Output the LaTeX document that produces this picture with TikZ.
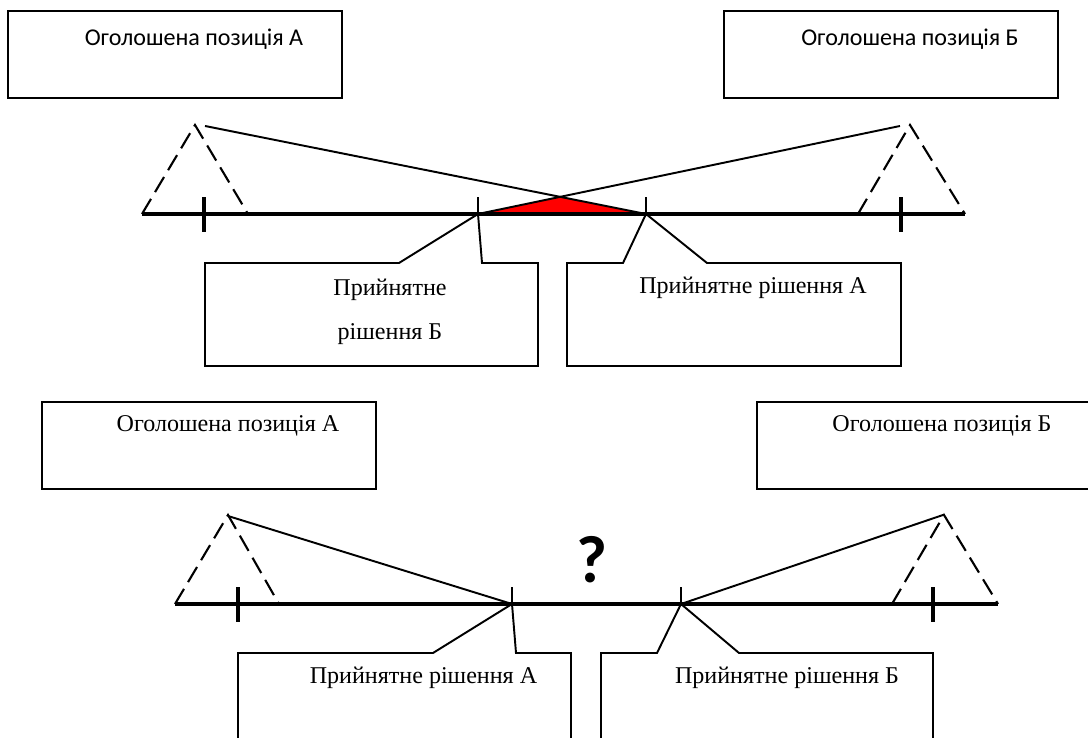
\documentclass[tikz,border=0pt]{standalone}
\usepackage{fontspec}
\setmainfont{Liberation Serif}
\newfontfamily\calibri{Carlito}
\usepackage{tikz}
\usetikzlibrary{positioning}

\begin{document}
\begin{tikzpicture}[x=2cm,y=2cm,
  box/.style={draw,line width=1.1pt,minimum width=6.68cm,minimum height=1.74cm,inner sep=0pt,anchor=north west},
  axis/.style={line width=2.1pt},
  bigtick/.style={line width=2.5pt},
  smalltick/.style={line width=1.5pt},
  ray/.style={line width=1.1pt},
  zone/.style={line width=1.2pt,dash pattern=on 10pt off 4.5pt},
  callout/.style={line width=1.1pt},
  serif/.style={font=\fontsize{13.7}{16}\selectfont},
  sans/.style={font=\calibri\fontsize{13.7}{16}\selectfont}]
  \useasboundingbox (0,0) rectangle (10.88,7.38);

  % top: the two positions overlap
  \node[box] (posA) at (0.07,7.28) {};
  \node[box] (posB) at (7.23,7.28) {};
  \node[sans] (tposA) at ([shift={(.19,-.29)}]posA.north) {Оголошена позиція А};
  \node[sans] (tposB) at ([shift={(.19,-.29)}]posB.north) {Оголошена позиція Б};

  \coordinate (sA) at (2.05,6.12);
  \coordinate (sB) at (9.00,6.12);
  \coordinate (dB) at (4.78,5.24);
  \coordinate (dA) at (6.46,5.24);
  \fill[red] (dB) -- (intersection of sA--dA and sB--dB) -- (dA) -- cycle;

  \draw[axis] (1.42,5.24) -- (9.65,5.24);
  \draw[bigtick] (2.04,5.06) -- (2.04,5.41);
  \draw[bigtick] (9.01,5.06) -- (9.01,5.41);
  \draw[smalltick] (dB) -- +(0,.17);
  \draw[smalltick] (dA) -- +(0,.17);
  \draw[zone] (1.42,5.24) -- (1.95,6.13) -- (2.48,5.24);
  \draw[zone] (8.58,5.24) -- (9.10,6.13) -- (9.65,5.24);
  \draw[ray] (sA) -- (dA);
  \draw[ray] (sB) -- (dB);

  \draw[callout] (2.05,3.72) -- (2.05,4.75) -- (3.99,4.75) -- (dB) -- (4.82,4.75) -- (5.38,4.75) -- (5.38,3.72) -- cycle;
  \draw[callout] (5.67,3.72) -- (5.67,4.75) -- (6.23,4.75) -- (dA) -- (7.07,4.75) -- (9.01,4.75) -- (9.01,3.72) -- cycle;
  \node[serif,align=center] (tdB) at (3.90,4.265) {Прийнятне\\[9pt]рішення Б};
  \node[serif] (tdA) at (7.53,4.50) {Прийнятне рішення А};

  % bottom: no overlap
  \node[box] (posA2) at (0.41,3.37) {};
  \node[box,minimum width=7cm] (posB2) at (7.56,3.37) {};
  \node[serif] (tposA2) at ([shift={(.19,-.25)}]posA2.north) {Оголошена позиція А};
  \node[serif] (tposB2) at (9.42,3.12) {Оголошена позиція Б};

  \coordinate (sA2) at (2.28,2.22);
  \coordinate (sB2) at (9.43,2.23);
  \coordinate (dA2) at (5.12,1.34);
  \coordinate (dB2) at (6.81,1.34);

  \draw[axis] (1.75,1.34) -- (9.98,1.34);
  \draw[bigtick] (2.38,1.16) -- (2.38,1.51);
  \draw[bigtick] (9.33,1.16) -- (9.33,1.51);
  \draw[smalltick] (dA2) -- +(0,.17);
  \draw[smalltick] (dB2) -- +(0,.17);
  \draw[zone] (1.75,1.34) -- (2.28,2.23) -- (2.79,1.34);
  \draw[zone] (8.92,1.34) -- (9.44,2.23) -- (9.98,1.34);
  \draw[ray] (sA2) -- (dA2);
  \draw[ray] (sB2) -- (dB2);
  \node[font=\calibri\bfseries\fontsize{38}{38}\selectfont] (q) at (5.92,1.78) {?};

  \draw[callout] (2.38,0) -- (2.38,0.85) -- (4.33,0.85) -- (dA2) -- (5.16,0.85) -- (5.71,0.85) -- (5.71,0);
  \draw[callout] (6.01,0) -- (6.01,0.85) -- (6.57,0.85) -- (dB2) -- (7.39,0.85) -- (9.33,0.85) -- (9.33,0);
  \node[serif] (tdA2) at (4.235,0.60) {Прийнятне рішення А};
  \node[serif] (tdB2) at (7.87,0.60) {Прийнятне рішення Б};
\end{tikzpicture}
\end{document}
